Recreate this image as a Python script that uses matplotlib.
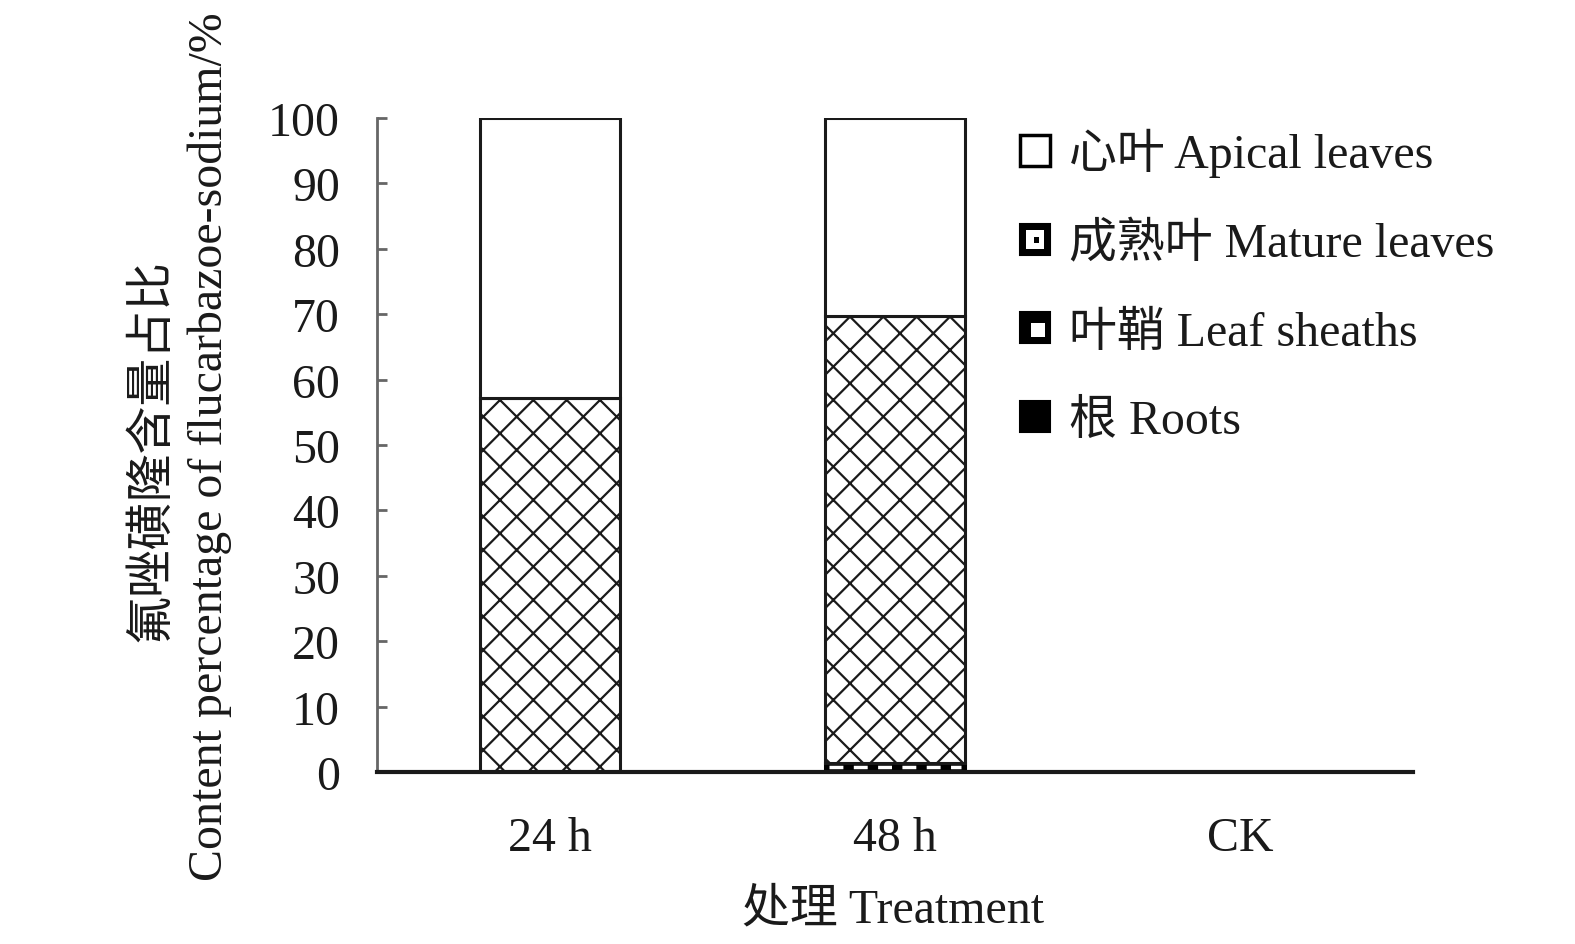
import matplotlib
matplotlib.use("Agg")
import matplotlib.pyplot as plt
import matplotlib.patches as mpatches
from matplotlib.legend_handler import HandlerPatch
import numpy as np

plt.rcParams['font.family'] = ['Liberation Serif', 'Noto Sans CJK SC', 'DejaVu Sans']
plt.rcParams['hatch.linewidth'] = 1.6

categories = ['24 h', '48 h', 'CK']
roots = [0.0, 0.2, 0.0]
leaf_sheaths = [0.0, 1.1, 0.0]
mature_leaves = [57.2, 68.4, 0.0]
apical_leaves = [42.8, 30.3, 0.0]
yticks = [0, 10, 20, 30, 40, 50, 60, 70, 80, 90, 100]

legend_labels = ['心叶 Apical leaves', '成熟叶 Mature leaves', '叶鞘 Leaf sheaths', '根 Roots']

FS = 34.5
INK = '#1a1a1a'

fig = plt.figure(figsize=(15.75, 9.45), dpi=100)
ax = fig.add_axes([377/1575, 1-773/945, (1413-377)/1575, (773-119)/945])

x = np.arange(len(categories))
w = 0.405
r = np.array(roots)
s = np.array(leaf_sheaths)
m = np.array(mature_leaves)
a = np.array(apical_leaves)
idx = [i for i in range(len(categories)) if (r[i] + s[i] + m[i] + a[i]) > 0]
xi = x[idx]

ax.bar(xi, r[idx], w, color='black', edgecolor='black', linewidth=2.2)
ax.bar(xi, s[idx], w, bottom=r[idx], color='black', edgecolor='black', linewidth=2.2)
# white dashes inside the leaf-sheath segment
for i in idx:
    if s[i] > 0:
        ax.hlines(r[i] + s[i] / 2, x[i] - w / 2 + 0.01, x[i] + w / 2 - 0.01, colors='white',
                  linewidth=2.5, linestyles=(0, (4, 3)), zorder=3)
ax.bar(xi, m[idx], w, bottom=(r+s)[idx], color='white', edgecolor=INK, hatch='x', linewidth=2.2)
ax.bar(xi, a[idx], w, bottom=(r+s+m)[idx], color='white', edgecolor=INK, linewidth=2.2)

ax.set_xlim(-0.5, len(categories) - 0.5)
ax.set_ylim(0, 100)
ax.set_yticks(yticks)
ax.set_yticklabels([str(t) for t in yticks], fontsize=FS, color=INK)
ax.set_xticks(x)
ax.set_xticklabels(categories, fontsize=FS, color=INK)
ax.tick_params(axis='y', direction='in', length=7, width=2, color='#666666', pad=26.5)
ax.tick_params(axis='x', length=0, pad=32)
for sp in ['top', 'right']:
    ax.spines[sp].set_visible(False)
ax.spines['left'].set_color('#666666')
ax.spines['left'].set_linewidth(2)
ax.spines['bottom'].set_color(INK)
ax.spines['bottom'].set_linewidth(3)
ax.spines['bottom'].set_zorder(5)

fig.text(893/1575, 1-910/945, '处理 Treatment', fontsize=FS, ha='center', va='center', color=INK)
fig.text(152/1575, 1-450/945, '氟唑磺隆含量占比', fontsize=FS, rotation=90, ha='center', va='center', color=INK)
fig.text(210/1575, 1-447/945, 'Content percentage of flucarbazoe-sodium/%', fontsize=FS, rotation=90, ha='center', va='center', color=INK)


class InsetHandler(HandlerPatch):
    def __init__(self, inner, **kw):
        super().__init__(**kw)
        self.inner = inner

    def create_artists(self, legend, orig_handle, xdescent, ydescent, width, height, fontsize, trans):
        outer = mpatches.Rectangle((-xdescent, -ydescent), width, height, facecolor='black',
                                   edgecolor='black', linewidth=1.5, transform=trans)
        arts = [outer]
        fx, fy, fw, fh = self.inner
        arts.append(mpatches.Rectangle((-xdescent + fx * width, -ydescent + fy * height),
                                       fw * width, fh * height, facecolor='white',
                                       edgecolor='none', transform=trans))
        return arts


class MatureHandler(HandlerPatch):
    def create_artists(self, legend, orig_handle, xdescent, ydescent, width, height, fontsize, trans):
        arts = [mpatches.Rectangle((-xdescent, -ydescent), width, height, facecolor='black',
                                   edgecolor='black', linewidth=1.5, transform=trans)]
        arts.append(mpatches.Rectangle((-xdescent + 0.2 * width, -ydescent + 0.2 * height),
                                       0.6 * width, 0.6 * height, facecolor='white',
                                       edgecolor='none', transform=trans))
        arts.append(mpatches.Rectangle((-xdescent + 0.45 * width, -ydescent + 0.4 * height),
                                       0.2 * width, 0.2 * height, facecolor='black',
                                       edgecolor='none', transform=trans))
        return arts


h_apical = mpatches.Patch(facecolor='white', edgecolor='black', linewidth=2.5)
h_mature = mpatches.Patch(facecolor='white', edgecolor='black')
h_sheath = mpatches.Patch(facecolor='black', edgecolor='black')
h_roots = mpatches.Patch(facecolor='black', edgecolor='black', linewidth=1.5)

leg = fig.legend([h_apical, h_mature, h_sheath, h_roots], legend_labels, loc='upper left',
                 bbox_to_anchor=(1001/1575, 1-110/945),
                 frameon=False, fontsize=FS, handlelength=0.62, handleheight=0.62,
                 handletextpad=0.4, labelspacing=0.92, borderaxespad=0,
                 handler_map={h_mature: MatureHandler(),
                              h_sheath: InsetHandler((0.35, 0.2, 0.5, 0.45))})
for t in leg.get_texts():
    t.set_color(INK)

fig.savefig('out.png', dpi=100)
